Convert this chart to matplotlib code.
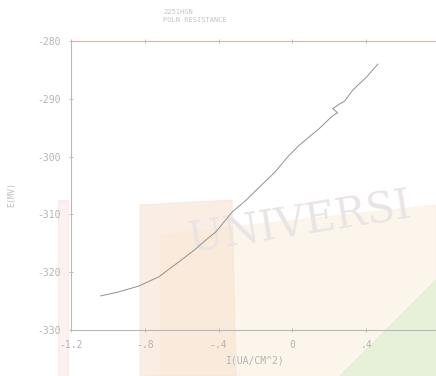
import matplotlib
matplotlib.use("Agg")
import matplotlib.pyplot as plt
from matplotlib.patches import Polygon

# Polarization resistance sweep: current density vs potential
current = [-1.039, -0.941, -0.833, -0.724, -0.615, -0.533, -0.468, -0.414,
           -0.327, -0.250, -0.196, -0.098, -0.027, 0.038, 0.147, 0.212,
           0.245, 0.218, 0.256, 0.283, 0.327, 0.403, 0.463]
potential = [-324.1, -323.4, -322.4, -320.8, -318.2, -316.2, -314.4, -313.0,
             -309.6, -307.5, -305.8, -302.8, -300.1, -298.0, -295.1, -293.1,
             -292.4, -291.7, -290.9, -290.4, -288.5, -286.2, -284.0]

x_ticks = [-1.2, -0.8, -0.4, 0.0, 0.4]
x_tick_labels = ["-1.2", "-.8", "-.4", "0", ".4"]
y_ticks = [-330, -320, -310, -300, -290, -280]
y_tick_labels = ["-330", "-320", "-310", "-300", "-290", "-280"]

W, H = 436, 376
fig = plt.figure(figsize=(W / 100, H / 100), dpi=100)
fig.patch.set_facecolor("white")


def fx(px):
    return px / W


def fy(py):
    return 1 - py / H


# faint background print behind the plot
bg = [
    Polygon([(fx(160), fy(235)), (fx(436), fy(205)), (fx(436), fy(376)), (fx(160), fy(376))],
            closed=True, color="#fcf3e6", alpha=0.8),
    Polygon([(fx(140), fy(205)), (fx(232), fy(200)), (fx(236), fy(376)), (fx(140), fy(376))],
            closed=True, color="#f8e4d2", alpha=0.6),
    Polygon([(fx(340), fy(376)), (fx(436), fy(280)), (fx(436), fy(376))],
            closed=True, color="#e2f0d6", alpha=0.8),
    Polygon([(fx(58), fy(200)), (fx(68), fy(200)), (fx(68), fy(376)), (fx(58), fy(376))],
            closed=True, color="#f4e0e0", alpha=0.45),
]
for p in bg:
    p.set_transform(fig.transFigure)
    p.set_zorder(0)
    fig.patches.append(p)

fig.text(fx(186), fy(252), "UNIVERSI", fontsize=30, family="DejaVu Serif",
         color="#ebe4e4", rotation=9, ha="left", va="baseline", zorder=1)

ax = fig.add_axes([71 / W, 1 - 330 / H, 369 / W, 289 / H])
ax.set_facecolor("none")
ax.set_zorder(2)

ax.plot(current, potential, color="#909090", lw=0.7)

ax.set_xlim(-1.2, 0.8)
ax.set_ylim(-330, -280)
ax.set_xticks(x_ticks)
ax.set_xticklabels(x_tick_labels)
ax.set_yticks(y_ticks)
ax.set_yticklabels(y_tick_labels)

mono = "DejaVu Sans Mono"
for lab in ax.get_xticklabels() + ax.get_yticklabels():
    lab.set_family(mono)
    lab.set_color("#b4b4b4")
    lab.set_fontsize(7)

ax.tick_params(axis="both", direction="inout", length=3, width=0.6,
               color="#b4b4b4", top=True, pad=6)
for side in ("left", "bottom"):
    ax.spines[side].set_color("#b8b8b8")
    ax.spines[side].set_linewidth(0.8)
ax.spines["top"].set_color("#dcaeae")
ax.spines["top"].set_linewidth(0.8)
ax.spines["right"].set_visible(False)

ax.set_xlabel("I(UA/CM^2)", family=mono, fontsize=7, color="#b4b4b4", labelpad=4)
fig.text(fx(12), fy(195), "E(MV)", family=mono, fontsize=6, color="#bcbcbc",
         rotation=90, ha="center", va="center")

fig.text(fx(163), fy(12), "2251HGN", family=mono, fontsize=5, color="#c4c4c4",
         ha="left", va="center")
fig.text(fx(163), fy(20), "POLN RESISTANCE", family=mono, fontsize=5, color="#c4c4c4",
         ha="left", va="center")

fig.savefig("out.png", dpi=100)
